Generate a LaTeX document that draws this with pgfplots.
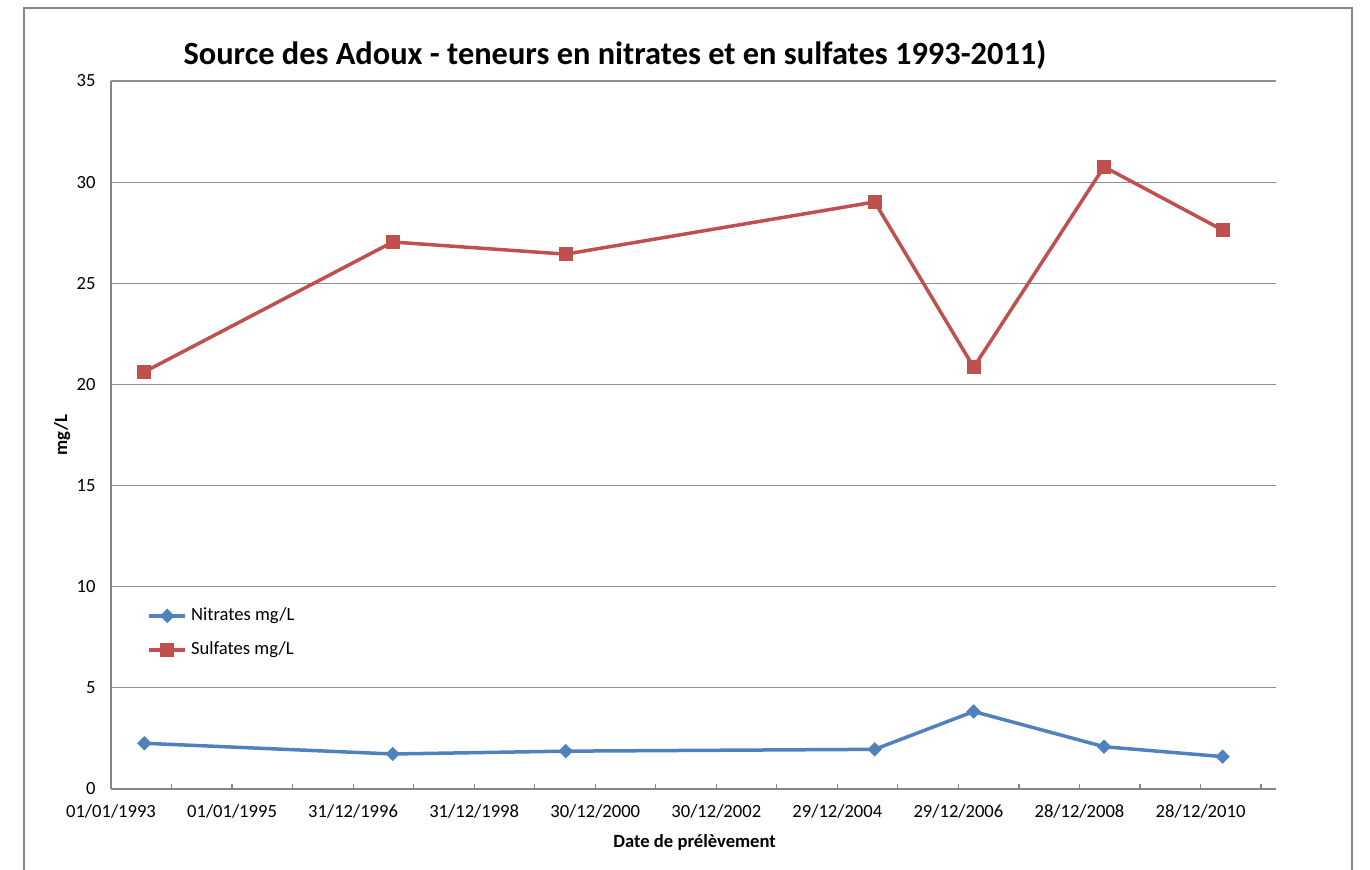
\documentclass[border=0pt]{standalone}
\usepackage{pgfplots}
\pgfplotsset{compat=1.18}
\usepackage{fontspec}
\setmainfont{Carlito}
\definecolor{nitr}{HTML}{4F81BD}
\definecolor{sulf}{HTML}{C0504D}
\definecolor{axgray}{HTML}{868686}
\definecolor{grgray}{HTML}{8E8E8E}
\begin{document}
\begin{tikzpicture}
\useasboundingbox (-55.5pt,-40.5pt) rectangle (629.5pt,394.5pt);
\draw[axgray, line width=0.6pt] (-43.5pt,-45pt) rectangle (620.5pt,390.5pt);
\begin{axis}[
  scale only axis,
  width=582.5pt, height=354pt,
  xmin=0, xmax=7025,
  ymin=0, ymax=35,
  axis x line=bottom, axis y line=left,
  axis line style={axgray, line width=0.6pt, -},
  xtick={0,730,1460,2190,2920,3650,4380,5110,5840,6570},
  xticklabels={01/01/1993,01/01/1995,31/12/1996,31/12/1998,30/12/2000,30/12/2002,29/12/2004,29/12/2006,28/12/2008,28/12/2010},
  minor xtick={365,1095,1825,2555,3285,4015,4745,5475,6205,6935},
  x tick style={axgray, line width=0.6pt},
  minor x tick style={axgray, line width=0.6pt},
  tick align=inside,
  major tick length=2.5pt, minor tick length=2.5pt,
  ytick={0,5,...,35},
  y tick style={draw=none},
  ymajorgrids,
  grid style={grgray, line width=0.6pt},
  /pgf/number format/assume math mode=true,
  tick label style={font=\fontsize{9.3}{11}\selectfont},
  xticklabel style={anchor=center, yshift=-11pt},
  yticklabel style={anchor=east, inner sep=0pt, xshift=-7.5pt},
  xlabel={Date de prélèvement},
  ylabel={mg/L},
  xlabel style={font=\fontsize{9.3}{11}\selectfont\bfseries, at={(axis description cs:0.501,-0.075)}, anchor=center},
  ylabel style={font=\fontsize{9.3}{11}\selectfont\bfseries, at={(axis description cs:-0.042,0.5)}, anchor=center},
  legend style={draw=none, fill=none, font=\fontsize{9.3}{11}\selectfont,
    at={(0.031,0.262)}, anchor=north west, row sep=5pt, inner sep=0pt},
  legend cell align=left,
  legend image code/.code={\draw[mark repeat=2,mark phase=2] plot coordinates {(0pt,0pt) (9pt,0pt) (18pt,0pt)};},
  clip=false,
]
\addplot[nitr, line width=1.75pt, mark=square*, mark size=2.3pt, mark options={rotate=45, solid, line width=0.5pt}]
  coordinates {(201,2.26) (1699,1.73) (2742,1.87) (4605,1.96) (5202,3.83) (5988,2.09) (6703,1.60)};
\addlegendentry{Nitrates mg/L}
\addplot[sulf, line width=1.75pt, mark=square*, mark size=3.2pt, mark options={solid, line width=0.5pt}]
  coordinates {(201,20.62) (1699,27.04) (2742,26.44) (4605,29.02) (5202,20.85) (5988,30.76) (6703,27.63)};
\addlegendentry{Sulfates mg/L}
\end{axis}
\node[font=\fontsize{16.2}{18}\selectfont\bfseries] at (252pt,367pt) {Source des Adoux - teneurs en nitrates et en sulfates 1993-2011)};
\end{tikzpicture}
\end{document}
